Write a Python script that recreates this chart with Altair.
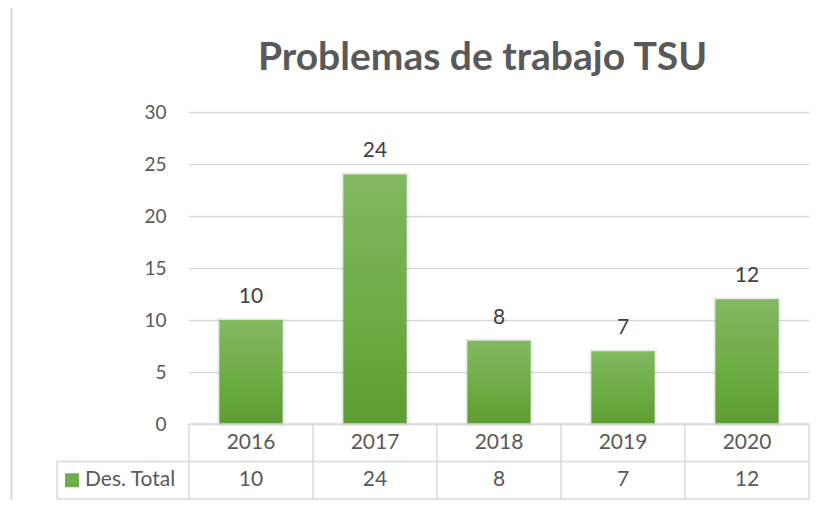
import altair as alt
import pandas as pd

# ---- data ----
years = ["2016", "2017", "2018", "2019", "2020"]
values = [10, 24, 8, 7, 12]
series_name = "Des. Total"
title_text = "Problemas de trabajo TSU"
y_ticks = [0, 5, 10, 15, 20, 25, 30]

df = pd.DataFrame({"year": years, "value": values})
bounds_df = pd.DataFrame({"b": list(range(len(years) + 1))})
one = pd.DataFrame({"k": [0]})

W, H = 620, 312
ROW = 37.5
GRID = "#d9d9d9"
FONT = "Lato"

x_band = alt.X("year:N", sort=years, axis=None,
               scale=alt.Scale(paddingInner=0.49, paddingOuter=0.245))
y_val = alt.Y("value:Q", scale=alt.Scale(domain=[0, 30], nice=False),
              axis=alt.Axis(values=y_ticks, title=None, domain=False, ticks=False,
                            labelPadding=23, labelFont=FONT, labelFontSize=19,
                            labelColor="#595959", gridColor=GRID, gridWidth=1.5))

base = alt.Chart(df)

shadow = base.mark_bar(fill="#404040", fillOpacity=0.12, stroke="#404040",
                       strokeOpacity=0.10, strokeWidth=4).encode(x=x_band, y=y_val)

bars = base.mark_bar(color=alt.Gradient(
    gradient="linear",
    stops=[alt.GradientStop(color="#82b862", offset=0),
           alt.GradientStop(color="#70ad47", offset=0.5),
           alt.GradientStop(color="#5f9d32", offset=1)],
    x1=0, x2=0, y1=0, y2=1)).encode(x=x_band, y=y_val)

labels = base.mark_text(font=FONT, fontSize=21, color="#404040", baseline="alphabetic",
                        dy=-17).encode(x=x_band, y=y_val, text="value:Q")

# ---- data table below the plot ----
vlines = alt.Chart(bounds_df).mark_rule(color=GRID, strokeWidth=1.5).encode(
    x=alt.X("b:Q", axis=None, scale=alt.Scale(domain=[0, len(years)], nice=False, zero=False)),
    y=alt.value(H), y2=alt.value(H + 2 * ROW))

hline_top = alt.Chart(one).mark_rule(color=GRID, strokeWidth=1.5).encode(
    x=alt.value(0), x2=alt.value(W), y=alt.value(H))
hline_mid = alt.Chart(one).mark_rule(color=GRID, strokeWidth=1.5).encode(
    x=alt.value(-132), x2=alt.value(W), y=alt.value(H + ROW))
hline_bot = alt.Chart(one).mark_rule(color=GRID, strokeWidth=1.5).encode(
    x=alt.value(-132), x2=alt.value(W), y=alt.value(H + 2 * ROW))
vline_leg = alt.Chart(one).mark_rule(color=GRID, strokeWidth=1.5).encode(
    x=alt.value(-132), y=alt.value(H + ROW), y2=alt.value(H + 2 * ROW))

head_txt = base.mark_text(font=FONT, fontSize=21, color="#595959", baseline="middle").encode(
    x=x_band, y=alt.value(H + ROW / 2), text="year:N")
val_txt = base.mark_text(font=FONT, fontSize=21, color="#595959", baseline="middle").encode(
    x=x_band, y=alt.value(H + ROW * 1.5), text="value:Q")

leg_sq = alt.Chart(one).mark_rect(color="#70ad47").encode(
    x=alt.value(-124), x2=alt.value(-110),
    y=alt.value(H + ROW * 1.5 - 7), y2=alt.value(H + ROW * 1.5 + 7))
leg_txt = alt.Chart(one).mark_text(font=FONT, fontSize=21, color="#595959", align="left",
                                   baseline="middle", text=series_name).encode(
    x=alt.value(-104), y=alt.value(H + ROW * 1.5))

# ---- title and chart frame ----
title = alt.Chart(one).mark_text(font=FONT, fontSize=39, fontWeight="bold", color="#595959",
                                 align="center", baseline="alphabetic", text=title_text).encode(
    x=alt.value(293.5), y=alt.value(-42))

frame_top = alt.Chart(one).mark_rule(color=GRID, strokeWidth=2).encode(
    x=alt.value(-177.5), x2=alt.value(W + 30), y=alt.value(-105.5))
frame_left = alt.Chart(one).mark_rule(color=GRID, strokeWidth=2).encode(
    x=alt.value(-177.5), y=alt.value(-105.5), y2=alt.value(H + 100))

chart = alt.layer(
    frame_top, frame_left, title,
    shadow, bars, labels,
    vlines, hline_top, hline_mid, hline_bot, vline_leg,
    head_txt, val_txt, leg_sq, leg_txt,
).resolve_scale(x="independent").properties(
    width=W, height=H,
    autosize=alt.AutoSizeParams(type="none"),
    padding={"left": 181, "top": 104, "right": 7, "bottom": 76},
).configure_view(stroke=None)

chart.save("out.html", embed_options={"renderer": "svg", "actions": False})
